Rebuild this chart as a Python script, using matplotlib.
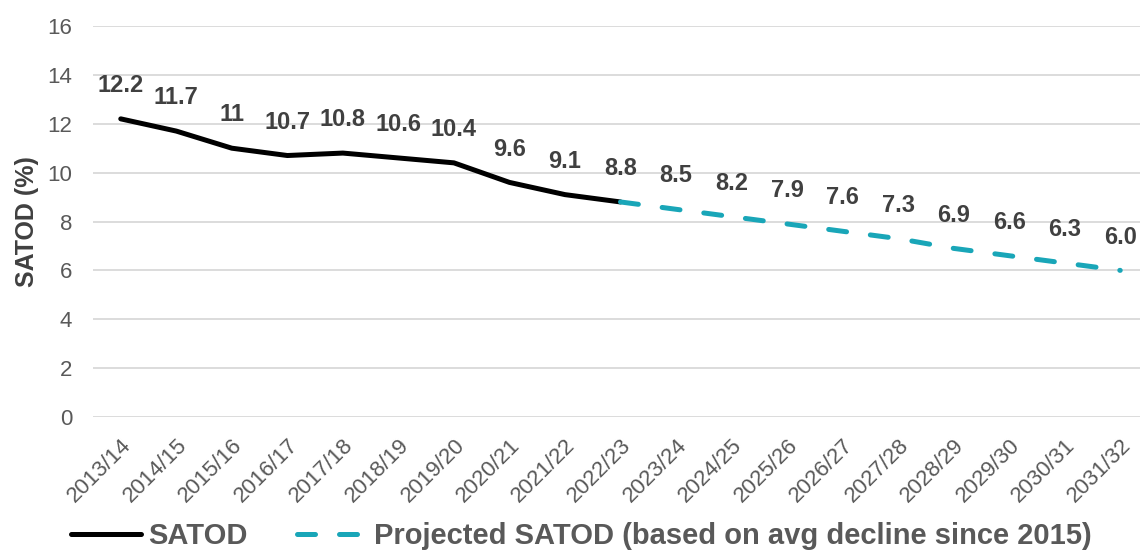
import numpy as np
import matplotlib.pyplot as plt

plt.rcParams['font.family'] = ['Liberation Sans', 'DejaVu Sans']

years = ['2013/14', '2014/15', '2015/16', '2016/17', '2017/18', '2018/19', '2019/20',
         '2020/21', '2021/22', '2022/23', '2023/24', '2024/25', '2025/26', '2026/27',
         '2027/28', '2028/29', '2029/30', '2030/31', '2031/32']

# observed prevalence (2013/14 - 2022/23)
satod = [12.2, 11.7, 11, 10.7, 10.8, 10.6, 10.4, 9.6, 9.1, 8.8]
satod_labels = ['12.2', '11.7', '11', '10.7', '10.8', '10.6', '10.4', '9.6', '9.1', '8.8']

# projection from 2022/23 onwards
projected = [8.8, 8.5, 8.2, 7.9, 7.6, 7.3, 6.9, 6.6, 6.3, 6.0]
projected_labels = ['8.5', '8.2', '7.9', '7.6', '7.3', '6.9', '6.6', '6.3', '6.0']

teal = '#19A6B8'
txt = '#404040'

fig = plt.figure(figsize=(11.4, 5.54), dpi=100)
ax = fig.add_axes([93 / 1140, 1 - 417 / 554, 1055 / 1140, 391 / 554])

x_act = np.arange(len(satod))
x_proj = np.arange(len(satod) - 1, len(years))

ax.plot(x_act, satod, color='black', lw=3.6, solid_capstyle='round',
        solid_joinstyle='round', label='SATOD', zorder=3)
ax.plot(x_proj, projected, color=teal, lw=3.6, dashes=(3.6, 4.8),
        dash_capstyle='round', label='Projected SATOD (based on avg decline since 2015)', zorder=3)

for xi, v, s in zip(x_act, satod, satod_labels):
    ax.annotate(s, (xi, v), xytext=(0, 24), textcoords='offset points',
                ha='center', va='center', fontsize=17, fontweight='bold', color=txt)
for xi, v, s in zip(x_proj[1:], projected[1:], projected_labels):
    ax.annotate(s, (xi, v), xytext=(0, 24), textcoords='offset points',
                ha='center', va='center', fontsize=17, fontweight='bold', color=txt)

ax.set_xlim(-0.5, len(years) - 0.5)
ax.set_ylim(0, 16)
ax.set_yticks(np.arange(0, 17, 2))
ax.set_xticks(np.arange(len(years)))
ax.set_xticklabels(years, rotation=45, ha='right', va='top', rotation_mode='anchor')
ax.tick_params(axis='both', length=0, labelsize=16, labelcolor='#595959')
ax.tick_params(axis='y', pad=15)
ax.tick_params(axis='x', pad=13)

ax.grid(axis='y', color='#d9d9d9', lw=1.3)
ax.set_axisbelow(True)
for sp in ax.spines.values():
    sp.set_visible(False)

ax.set_ylabel('SATOD (%)', fontsize=18, fontweight='bold', color=txt, labelpad=6)

fig.legend(loc='lower center', bbox_to_anchor=(0.51, -0.04), ncol=2, frameon=False,
           handlelength=2.4, columnspacing=1.7, handletextpad=0.25,
           prop={'size': 21, 'weight': 'bold'}, labelcolor='#595959')

fig.savefig('out.png', dpi=100)
